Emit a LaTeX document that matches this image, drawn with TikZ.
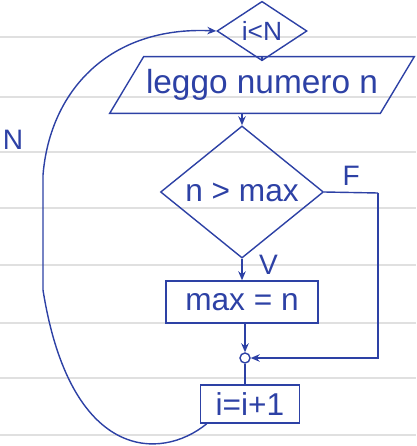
\documentclass[tikz,border=0pt]{standalone}
\usepackage{fontspec}
\setmainfont{Liberation Sans}
\usetikzlibrary{positioning,arrows.meta,shapes.geometric}
\definecolor{ink}{RGB}{45,65,165}

\begin{document}
\begin{tikzpicture}[
    x=0.02cm, y=-0.02cm,
    flowline/.style={ink, thick},
    arrow/.style={flowline, -{Stealth[length=1.8mm, width=1.5mm]}},
    decision/.style={diamond, draw=ink, thick, text=ink, inner sep=0pt, font=\fontsize{18}{21}\selectfont},
    inputtext/.style={rectangle, text=ink, inner sep=0pt, font=\fontsize{19}{23}\selectfont},
    procbox/.style={rectangle, draw=ink, thick, text=ink, font=\fontsize{18}{21}\selectfont},
    handnote/.style={text=ink, font=\fontsize{16}{19}\selectfont},
    ruling/.style={black!12, line width=0.6pt},
  ]
  \useasboundingbox (0,0) rectangle (416,446);

  % Paper lines
  \foreach \y in {37,97,152,208,265,323,378,435}
    \draw[ruling] (0,\y) -- (416,\y);

  % Blocks
  \node[decision, minimum width=1.8cm, minimum height=0.6cm, font=\fontsize{15}{18}\selectfont] (loop) at (262,31) {i<N};
  \node[inputtext, minimum width=5.4cm, minimum height=1.12cm] (read) at (262,85) {leggo numero n};
  \draw[flowline] ([xshift=-0.34cm]read.south west) -- ([xshift=0.34cm]read.north west)
    -- ([xshift=0.34cm]read.north east) -- ([xshift=-0.34cm]read.south east) -- cycle;
  \node[decision, minimum width=3.26cm, minimum height=1.6cm] (test) at (242,192) {n > max};
  \node[procbox, minimum width=3.04cm, minimum height=0.84cm] (assign) at (242,302) {max = n};
  \node[circle, draw=ink, thick, minimum size=0.2cm, inner sep=0pt] (join) at (245,358) {};
  \node[procbox, minimum width=1.98cm, minimum height=0.76cm] (incr) at (250,404) {i=i+1};

  % Turning points
  \coordinate (fturn) at (378,193);
  \coordinate (lbottom) at (43,290);
  \coordinate (ltop) at (43,175);

  % Connectors
  \draw[flowline] (loop.south) -- (loop.south |- read.north);
  \draw[arrow] (read.south -| test.north) -- (test.north);
  \draw[arrow] (test.south) -- node[handnote, right=6pt, pos=0.3] {V} (assign.north);
  \draw[flowline] (test.east) -- node[handnote, above] {F} (fturn);
  \draw[arrow] (fturn) |- (join.east);
  \draw[arrow] (assign.south -| join.north) -- (join.north);
  \draw[flowline] (join.south) -- (join.south |- incr.north);
  \draw[arrow] ([xshift=0.14cm]incr.south west) .. controls (160,462) and (70,460) .. (lbottom)
    -- (ltop) .. controls (50,90) and (110,26) .. (loop.west);

  % Loop label
  \node[handnote] (nlabel) at (13,140) {N};
\end{tikzpicture}
\end{document}
